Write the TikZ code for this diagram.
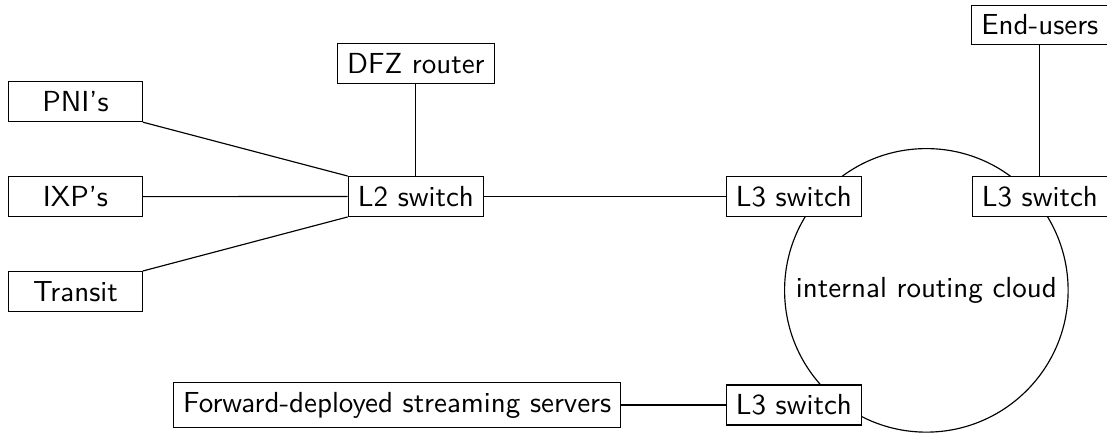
\documentclass[tikz,border=0pt]{standalone}
\usepackage{amsmath}
\usepackage{tikz}

\tikzset{
    box/.style={draw, fill=white, font=\sffamily, minimum width=1.62cm},
    cloudnode/.style={circle, draw, minimum size=3.43cm, font=\sffamily}
}

\begin{document}
\begin{tikzpicture}
            \useasboundingbox (0,0) rectangle (13.42,-5.25);

            \node[cloudnode] (cloud) at (11.23,-3.52) {internal routing cloud};

            \node[box] (pni) at (0.915,-1.233) {PNI's};
            \node[box] (ixp) at (0.915,-2.384) {IXP's};
            \node[box] (transit) at (0.915,-3.532) {Transit};

            \node[box] (ltwo) at (5.042,-2.382) {L2 switch};
            \node[box] (dfz) at (5.042,-0.770) {DFZ router};

            \node[box] (lthreea) at (9.624,-2.382) {L3 switch};
            \node[box] (lthreeb) at (12.606,-2.382) {L3 switch};
            \node[box] (users) at (12.606,-0.303) {End-users};

            \node[box] (lthreec) at (9.624,-4.91) {L3 switch};
            \node[box] (servers) at (4.815,-4.91) {Forward-deployed streaming servers};

            \draw (pni.south east) -- (ltwo.north west);
            \draw (ixp) -- (ltwo);
            \draw (transit.north east) -- (ltwo.south west);
            \draw (dfz) -- (ltwo);
            \draw (ltwo) -- (lthreea);
            \draw (users) -- (lthreeb);
            \draw (servers) -- (lthreec);
        \end{tikzpicture}
\end{document}
